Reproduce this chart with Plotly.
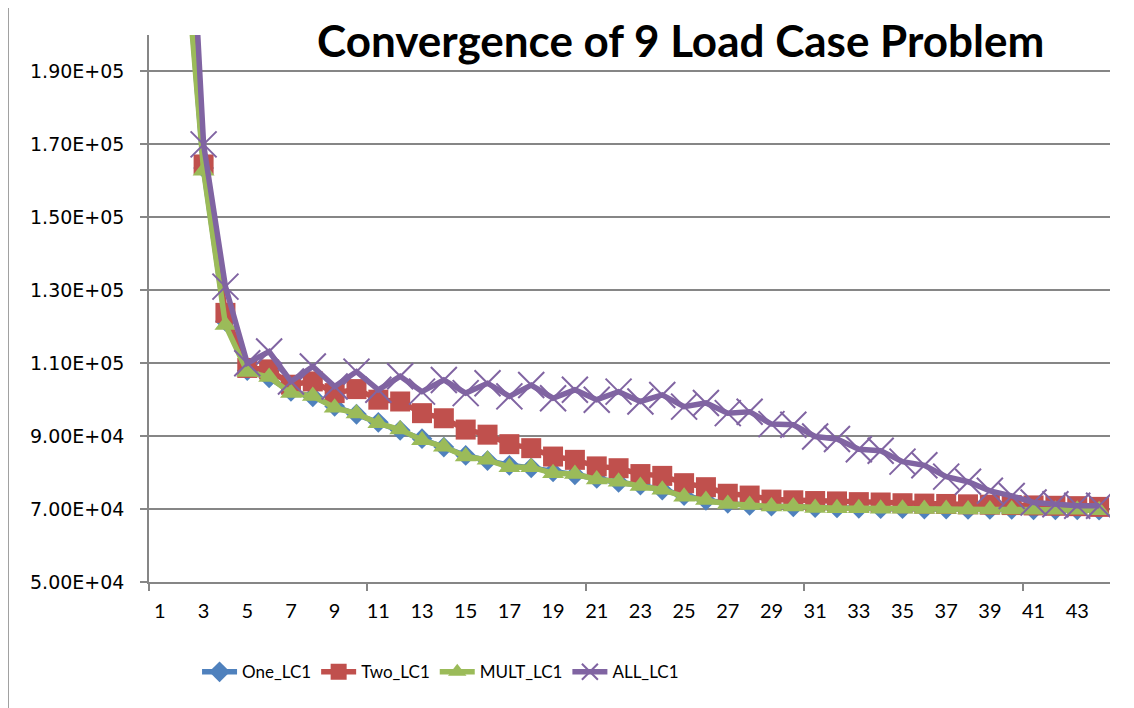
import plotly.graph_objects as go

iterations = list(range(1, 45))

one_lc1 = [330000, 238000, 163500, 121500, 108000, 106000, 102300, 100800, 98200, 96000,
           93800, 91600, 89300, 87000, 84700, 83300, 82000, 81300, 80200, 79400,
           78400, 77300, 76600, 75200, 73700, 72400, 71600, 71000, 70800, 70600,
           70400, 70300, 70200, 70100, 70100, 70000, 70000, 69900, 69900, 69900,
           69800, 69800, 69800, 69700]
two_lc1 = [330000, 240000, 164500, 123800, 108700, 108300, 104100, 105000, 101800, 102900,
           100000, 99500, 96300, 94900, 91800, 90400, 87800, 86700, 84400, 83500,
           81700, 81200, 79600, 79100, 77100, 76000, 74200, 73700, 72600, 72400,
           72200, 72100, 71900, 71800, 71600, 71500, 71400, 71300, 71200, 71100,
           71000, 70900, 70800, 70600]
mult_lc1 = [320000, 235000, 162800, 120500, 107600, 106200, 101800, 101000, 97800, 96200,
            93500, 91800, 88900, 87100, 84400, 83500, 81500, 81500, 79800, 79600,
            78100, 77500, 76300, 75300, 73400, 72500, 71400, 71100, 70700, 70700,
            70300, 70200, 70200, 70100, 70100, 70000, 70000, 69900, 69900, 69900,
            69800, 69800, 69800, 69700]
all_lc1 = [420000, 282000, 170000, 131000, 110000, 113200, 105000, 109100, 103600, 107700,
           102700, 106400, 102200, 105400, 101800, 104500, 100900, 104000, 100400, 102700,
           100000, 102200, 99500, 101300, 98100, 99100, 96300, 96700, 93300, 93100,
           89900, 89200, 86400, 86000, 83000, 82000, 78900, 77500, 75000, 73600,
           71800, 71300, 70900, 70900]

y_tickvals = [50000, 70000, 90000, 110000, 130000, 150000, 170000, 190000]
y_ticktext = ["5.00E+04", "7.00E+04", "9.00E+04", "1.10E+05", "1.30E+05", "1.50E+05", "1.70E+05", "1.90E+05"]
x_tickvals = list(range(1, 45, 2))
x_ticktext = [str(v) for v in x_tickvals]

series = [
    ("One_LC1", one_lc1, "#4F81BD", "diamond", 16),
    ("Two_LC1", two_lc1, "#C0504D", "square", 20),
    ("MULT_LC1", mult_lc1, "#9BBB59", "triangle-up", 19),
    ("ALL_LC1", all_lc1, "#8064A2", "x-thin", 26),
]

fig = go.Figure()
for name, vals, color, sym, size in series:
    marker = dict(symbol=sym, size=size, color=color, line=dict(width=0, color=color))
    if sym == "x-thin":
        marker["line"] = dict(width=2, color=color)
    fig.add_trace(go.Scatter(
        x=iterations, y=vals, name=name, mode="lines+markers",
        line=dict(color=color, width=5.5),
        marker=marker,
    ))

grid = "#868686"
fig.update_layout(
    width=1126, height=700,
    margin=dict(l=141, r=24, t=27, b=126),
    paper_bgcolor="white", plot_bgcolor="white",
    showlegend=True,
    legend=dict(orientation="h", x=0.05, xanchor="left", y=-0.165, yanchor="middle",
                font=dict(family="Lato", size=17, color="black"),
                itemwidth=35, tracegroupgap=0),
    xaxis=dict(range=[0.5, 44.5], tickmode="array", tickvals=x_tickvals, ticktext=x_ticktext,
               showgrid=False, zeroline=False, showline=True, linecolor=grid, linewidth=1.5,
               ticks="", ticklabelstandoff=10,
               tickfont=dict(family="Lato", size=20, color="black"),
               minor=dict(tick0=0.5, dtick=10, ticks="outside", ticklen=7, tickcolor=grid, tickwidth=1.5, showgrid=False)),
    yaxis=dict(range=[50000, 200000], tickmode="array", tickvals=y_tickvals, ticktext=y_ticktext,
               showgrid=True, gridcolor=grid, gridwidth=1.5, zeroline=False,
               showline=True, linecolor=grid, linewidth=1.5,
               ticks="outside", ticklen=7, tickcolor=grid, tickwidth=1.5, ticklabelstandoff=12,
               tickfont=dict(family="DejaVu Sans", size=19, color="black")),
    annotations=[dict(text="<b>Convergence of 9 Load Case Problem</b>", xref="paper", yref="paper",
                      x=0.553, y=0.99, xanchor="center", yanchor="middle", showarrow=False,
                      font=dict(family="Lato", size=44, color="black"))],
    shapes=[dict(type="rect", xref="paper", yref="paper", x0=-0.1467, x1=1.05, y0=-0.25, y1=1.053,
                 line=dict(color=grid, width=1.5), layer="below")],
)

fig.write_html("out.html")
